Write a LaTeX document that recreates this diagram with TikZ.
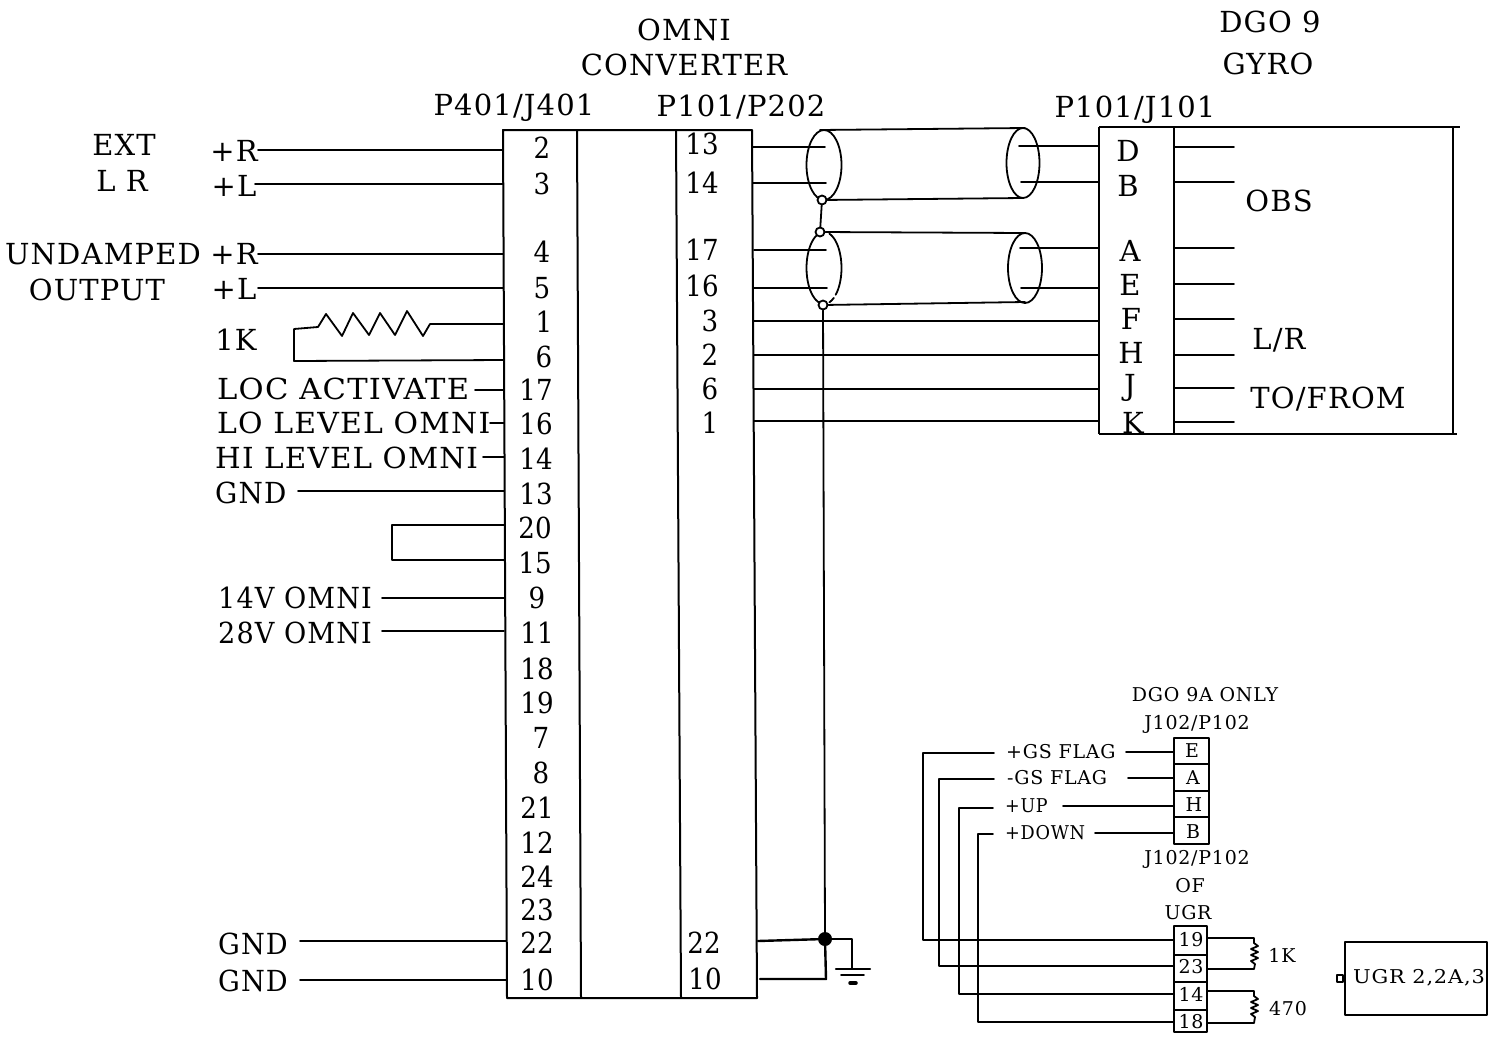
\documentclass[tikz,border=0pt]{standalone}
\usepackage{graphicx}
\usepackage{fontspec}
\setmainfont[LetterSpace=4]{DejaVu Serif}
\newfontfamily\digfont{DejaVu Serif}
\tikzset{
  wire/.style={line width=1.8pt,line join=round,line cap=round},
  box/.style={line width=2pt,line join=round},
  lab/.style={inner sep=0pt,font=\fontsize{29}{29}\selectfont},
  pinlab/.style={inner sep=0pt,font=\digfont\fontsize{29}{29}\selectfont},
  ll/.style={lab,anchor=west},
  sm/.style={inner sep=0pt,font=\fontsize{19}{19}\selectfont},
  term/.style={circle,draw,line width=1.8pt,minimum size=9pt,inner sep=0pt},
  dotn/.style={circle,fill,minimum size=14pt,inner sep=0pt}
}
\begin{document}
\begin{tikzpicture}[x=1pt,y=-1pt]
\useasboundingbox (0,0) rectangle (1501,1036);
\fill[white] (0,0) rectangle (1501,1036);
% titles
\foreach \n/\x/\y/\t in {a/684/30/OMNI,b/684/65/CONVERTER,c/1270/22/DGO 9,d/1268/64/GYRO,e/514/108/{P401/J401},f/741/107/{P101/P202},g/1135/110/{P101/J101},
 h/124/145/EXT,i/122/181/L R,j/103/254/UNDAMPED,k/97/290/OUTPUT,l/234/151/+R,m/234/186/+L,n/234/254/+R,o/234/289/+L,p/236/340/1K,
 q/1279/201/OBS,r/1279/340/{L/R},s/1328/399/{TO/FROM}}
  {\node[lab] (t\n) at (\x,\y) {\t};}
\foreach \n/\x/\y/\s/\t in {a/217/389/1.055/LOC ACTIVATE,b/217/423/1.03/LO LEVEL OMNI,c/215/458/1.015/HI LEVEL OMNI,d/215/493/.96/GND,e/218/598/.935/14V OMNI,f/218/633/.935/28V OMNI,g/218/944/.94/GND,h/218/981/.94/GND}
  {\node[ll] (u\n) at (\x,\y) {\scalebox{\s}[1]{\t}};}
% main block
\draw[box] (503,130) -- (752,130) -- (757,998) -- (507,998) -- cycle;
\draw[box] (577,130) -- (581,998);
\draw[box] (676,130) -- (681,998);
\foreach \n/\x/\y in {2/542/148,3/542/184,4/542/252,5/542/288,1/544/322,6/544/357,17/536/390,16/536/424,14/536/459,13/536/494,20/535/528,15/535/563,9/537/598,11/537/633,18/537/669,19/537/703,7/541/738,8/541/773,21/537/808,12/537/843,24/537/877,23/537/910,22/537/943,10/537/980}
  {\node[pinlab] (L\n) at (\x,\y) {\scalebox{.9}[1]{\n}};}
\foreach \n/\x/\y in {13/702/144,14/702/183,17/702/250,16/702/286,3/710/321,2/710/355,6/710/389,1/710/423,22/704/943,10/705/979}
  {\node[pinlab] (R\n) at (\x,\y) {\scalebox{.9}[1]{\n}};}
% left wires
\foreach \n/\a/\b/\y in {a/258/503/150,b/255/503/184,c/258/503/254,d/258/503/288,e/475/504/390,f/490/504/423,g/483/504/457,h/298/504/491,i/382/504/598,j/382/504/631,k/300/506/941,l/300/506/980}
  {\coordinate (wa\n) at (\a,\y); \coordinate (wb\n) at (\b,\y); \draw[wire] (wa\n) -- (wb\n);}
% 1K resistor
\coordinate (r1) at (504,324); \coordinate (r6) at (504,360);
\draw[wire] (r1) -- (430,324) -- (423,336) -- (407,311) -- (395,335) -- (380,313) -- (369,335) -- (353,313) -- (342,336) -- (326,314) -- (318,327) -- (294,329) -- (294,361) -- (r6);
% loop
\coordinate (p20) at (504,525); \coordinate (p15) at (504,560);
\draw[wire] (p20) -- (392,525) -- (392,560) -- (p15);
% connector P101/J101
\draw[box] (1099,127) -- (1460,127);
\draw[box] (1453,127) -- (1453,434);
\draw[box] (1099,434) -- (1457,434);
\draw[box] (1099,127) -- (1099,434);
\draw[box] (1174,127) -- (1174,434);
\foreach \n/\x/\y in {D/1128/151,B/1128/186,A/1130/251,E/1130/285,F/1131/319,H/1131/353,J/1130/388,K/1133/423}
  {\node[lab] (C\n) at (\x,\y) {\n};}
\foreach \n/\y in {a/147,b/182,c/248,d/284,e/319,f/355,g/388,h/422}
  {\coordinate (ga\n) at (1175,\y); \coordinate (gb\n) at (1234,\y); \draw[wire] (ga\n) -- (gb\n);}
% straight wires to gyro
\foreach \n/\y in {a/321,b/355,c/389,d/421}
  {\coordinate (sa\n) at (754,\y); \coordinate (sb\n) at (1099,\y); \draw[wire] (sa\n) -- (sb\n);}
% shielded wires
\foreach \n/\a/\b/\y in {a/753/825/147,b/753/826/183,c/754/826/250,d/754/827/288,e/1019/1098/146,f/1021/1098/182,g/1020/1098/248,h/1021/1098/288}
  {\coordinate (xa\n) at (\a,\y); \coordinate (xb\n) at (\b,\y); \draw[wire] (xa\n) -- (xb\n);}
\draw[wire] (824,165) ellipse [x radius=17.5,y radius=35];
\draw[wire] (1023,163) ellipse [x radius=16.5,y radius=35];
\draw[wire] (1025,268) ellipse [x radius=17,y radius=35];
\draw[wire,samples=24,domain=-72:48] plot ({824+17.5*cos(\x)},{268+36*sin(\x)});
\draw[wire,samples=24,domain=56:72] plot ({824+17.5*cos(\x)},{268+36*sin(\x)});
\draw[wire,samples=24,domain=105:245] plot ({824+17.5*cos(\x)},{268+36*sin(\x)});
\node[term,fill=white] (s1) at (822,200) {};
\node[term,fill=white] (s2) at (820,232) {};
\node[term,fill=white] (s3) at (823,305) {};
\coordinate (s1e) at (1023,198); \coordinate (s2e) at (1025,233); \coordinate (s3e) at (1025,302); \coordinate (s0a) at (820,130); \coordinate (s0e) at (1025,128);
\draw[wire] (s0a) -- (s0e);
\draw[wire] (s1) -- (s1e);
\draw[wire] (s2) -- (s2e);
\draw[wire] (s3) -- (s3e);
\draw[wire] (s1) -- (s2);
% ground
\node[dotn] (jn) at (825,939) {};
\coordinate (o22) at (758,941); \coordinate (o10) at (760,979); \coordinate (gt) at (852,968);
\draw[wire] (s3) -- (jn);
\draw[wire,line width=2.4pt] (o22) -- (jn);
\draw[wire] (jn) -| (gt);
\draw[wire,line width=2.4pt] (o10) -- (826,979) -- (jn);
\draw[wire,line width=2.4pt] (836,969) -- (870,969);
\draw[wire] (841,975) -- (864,975);
\draw[wire,line width=3.5pt] (850,983) -- (856,983);
% lower right labels
\foreach \n/\x/\y/\t in {a/1205/695/DGO 9A ONLY,b/1197/724/{J102/P102},c/1197/859/{J102/P102},d/1190/886/OF,e/1188/913/UGR,f/1282/955/1K,g/1288/1009/470}
  {\node[sm] (v\n) at (\x,\y) {\t};}
\node[sm] (vh) at (1419,978) {\scalebox{1.1}[1]{UGR 2,2A,3}};
\node[sm,anchor=west] (ga) at (1006,752) {+GS FLAG};
\node[sm,anchor=west] (gb) at (1007,778) {-GS FLAG};
\node[sm,anchor=west] (gc) at (1005,806) {\scalebox{.92}[1]{+UP}};
\node[sm,anchor=west] (gd) at (1005,833) {\scalebox{.93}[1]{+DOWN}};
% upper pin stack
\draw[box] (1174,738) rectangle (1209,844);
\draw[box] (1174,764) -- (1209,764);
\draw[box] (1174,791) -- (1209,791);
\draw[box] (1174,817) -- (1209,817);
\node[sm] (pE) at (1192,751) {E};
\node[sm] (pA) at (1193,778) {A};
\node[sm] (pH) at (1194,805) {H};
\node[sm] (pB) at (1193,832) {B};
% lower pin stack
\draw[box] (1174,1032) -- (1174,926) -- (1207,926) -- (1207,1032) -- cycle;
\draw[box] (1174,955) -- (1207,955);
\draw[box] (1174,982) -- (1207,982);
\draw[box] (1174,1010) -- (1207,1010);
\node[sm] (p19) at (1191,940) {19};
\node[sm] (p23) at (1191,967) {23};
\node[sm] (p14) at (1191,994) {14};
\node[sm] (p18) at (1191,1022) {18};
% routed wires
\foreach \n/\a/\y in {a/1126/752,b/1128/778,c/1063/806,d/1095/833}
  {\coordinate (ya\n) at (\a,\y); \coordinate (yb\n) at (1174,\y); \draw[wire] (ya\n) -- (yb\n);}
\foreach \n/\e/\x/\y/\z in {a/994/923/753/940,b/994/939/779/966,c/993/959/808/994,d/993/978/834/1022}
  {\coordinate (za\n) at (\e,\y); \coordinate (zb\n) at (1174,\z); \draw[wire] (za\n) -- (\x,\y) -- (\x,\z) -- (zb\n);}
% small resistors
\coordinate (q19) at (1208,938); \coordinate (q23) at (1208,969); \coordinate (q14) at (1208,991); \coordinate (q18) at (1208,1023);
\draw[wire] (q19) -- (1254,938) -- (1254,943) -- (1258,946) -- (1251,949) -- (1258,952) -- (1251,955) -- (1258,958) -- (1251,961) -- (1255,964) -- (1254,969) -- (q23);
\draw[wire] (q14) -- (1254,991) -- (1254,996) -- (1258,999) -- (1251,1002) -- (1258,1005) -- (1251,1008) -- (1258,1011) -- (1251,1014) -- (1255,1017) -- (1254,1023) -- (q18);
% UGR box
\draw[box] (1345,942) -- (1487,942) -- (1487,1015) -- (1345,1015) -- cycle;
\draw[wire] (1337,975) rectangle (1343,982);
\end{tikzpicture}
\end{document}
